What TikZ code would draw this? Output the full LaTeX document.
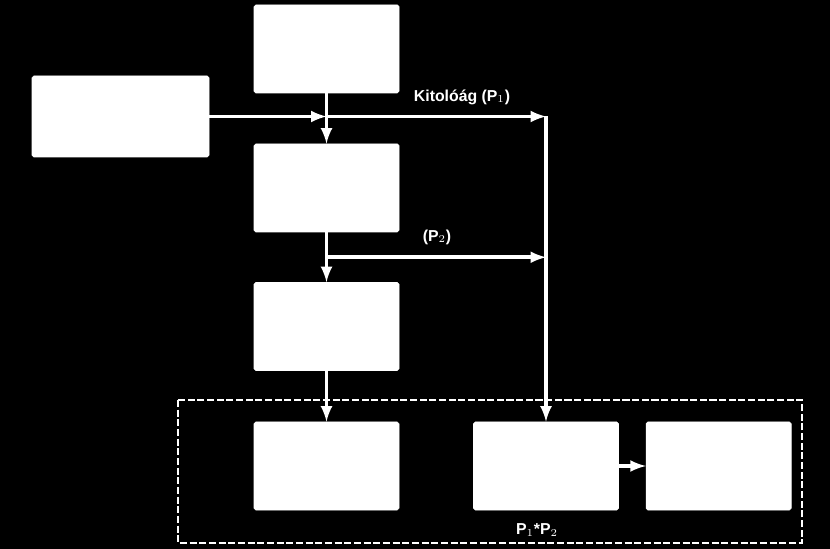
\documentclass[tikz,border=0pt]{standalone}
\usepackage{fontspec}
\setmainfont{Liberation Sans}
\usetikzlibrary{shapes,arrows,positioning,calc}

\begin{document}
\begin{tikzpicture}[node distance=0.54cm, auto, >=latex,
        block/.style={rectangle, draw=white, fill=white, rounded corners=1pt, minimum width=2.9cm, minimum height=1.76cm},
        wide/.style={block, minimum width=3.54cm, minimum height=1.62cm},
        line/.style={draw=white, line width=2pt},
        tag/.style={text=white, font=\bfseries\small, inner sep=1pt}]

        % background
        \fill[black] (0,0) rectangle (16.6,-10.98);
        \useasboundingbox (0,0) rectangle (16.6,-10.98);

        \node[block] (top) at (6.53,-0.98) {};
        \node[wide] (src) at (2.41,-2.33) {};
        \node[block] (mid) at (6.53,-3.76) {};
        \node[block] (low) at (6.53,-6.53) {};
        \node[block] (out) at (6.53,-9.32) {};
        \node[block] (mul) at (10.92,-9.32) {};
        \node[block, right=of mul] (res) {};

        \coordinate (j1) at (top.south |- src.east);
        \coordinate (k1) at (mul.north |- src.east);
        \coordinate (j2) at ($(mid.south)!0.5!(low.north)$);
        \coordinate (k2) at (mul.north |- j2);

        \draw[line, dashed, dash pattern=on 4pt off 1.5pt, line width=1.2pt] (3.56,-8.0) rectangle (16.04,-10.86);

        \draw[line, ->] (top) -- (mid);
        \draw[line, ->] (mid) -- (low);
        \draw[line, ->] (low) -- (out);
        \draw[line, ->] (src.east) -- (j1);
        \draw[line, ->] (j1) -- (k1);
        \draw[line, ->] (k1) -- (mul.north);
        \draw[line, ->] (j2) -- (k2);
        \draw[line, ->] (mul) -- (res);

        \node[tag] (p1) at (9.24,-1.94) {Kitolóág (P$_1$)};
        \node[tag] (p2) at (8.74,-4.74) {(P$_2$)};
        \node[tag] (pp) at (10.74,-10.6) {P$_1$*P$_2$};
    \end{tikzpicture}
\end{document}
